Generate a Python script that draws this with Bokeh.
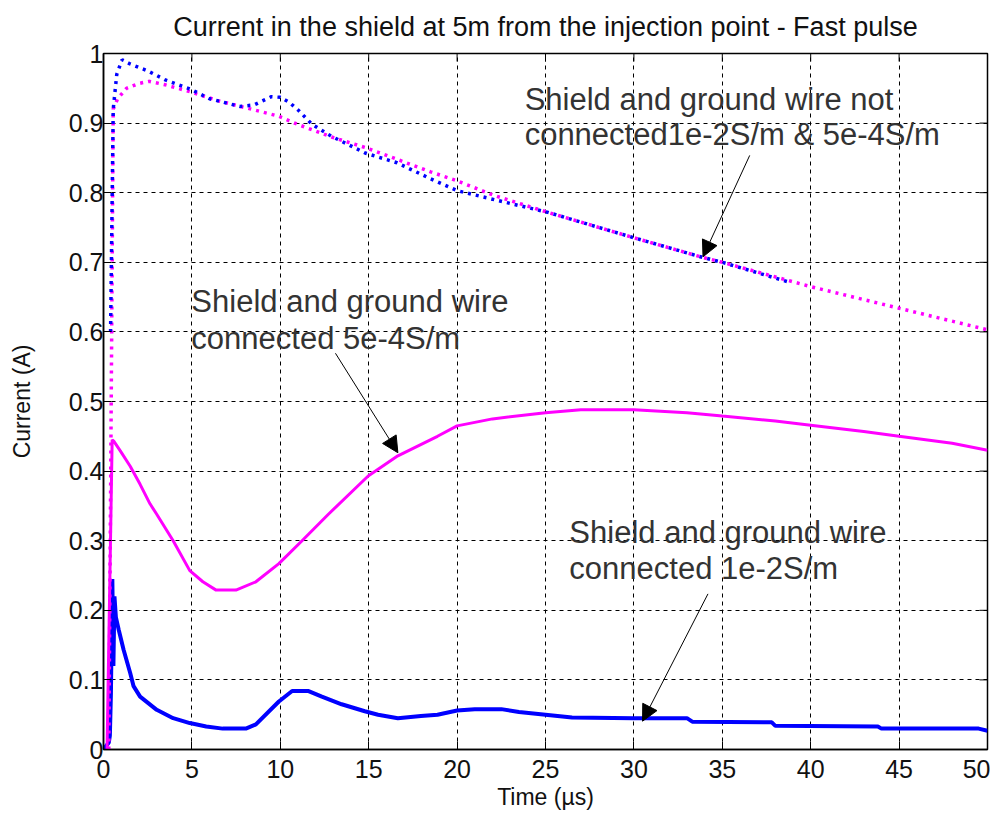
import math
from bokeh.plotting import figure
from bokeh.models import Arrow, NormalHead, FixedTicker, CustomJSTickFormatter, Range1d
from bokeh.embed import file_html
from bokeh.resources import INLINE
from bokeh.core.properties import value

TITLE = "Current in the shield at 5m from the injection point - Fast pulse"
X_LABEL = "Time (µs)"
Y_LABEL = "Current (A)"
x_ticks = [0, 5, 10, 15, 20, 25, 30, 35, 40, 45, 50]
y_ticks = [0, 0.1, 0.2, 0.3, 0.4, 0.5, 0.6, 0.7, 0.8, 0.9, 1.0]

# Shield and ground wire connected, 1e-2 S/m (blue solid)
t_con_1e2 = [0.0, 0.3, 0.36, 0.42, 0.5, 0.56, 0.62, 0.7, 0.86, 1.14, 1.51, 1.70, 2.07, 3.01, 3.94,
             4.88, 5.81, 6.74, 8.05, 8.62, 9.92, 10.67, 11.60, 12.35, 13.47, 14.78, 15.53,
             16.65, 17.95, 18.89, 20.0, 21.0, 22.5, 23.5, 25.0, 26.5, 30.0, 33.0, 33.3, 37.8,
             38.0, 43.8, 44.0, 49.5, 50.0]
i_con_1e2 = [0.0, 0.01, 0.02, 0.08, 0.245, 0.12, 0.22, 0.19, 0.172, 0.143, 0.110, 0.091, 0.076,
             0.057, 0.045, 0.038, 0.033, 0.030, 0.030, 0.036, 0.069, 0.084, 0.084, 0.076,
             0.065, 0.055, 0.050, 0.045, 0.048, 0.050, 0.056, 0.058, 0.058, 0.054, 0.050,
             0.046, 0.045, 0.045, 0.040, 0.039, 0.034, 0.033, 0.030, 0.030, 0.027]

# Shield and ground wire connected, 5e-4 S/m (magenta solid)
t_con_5e4 = [0.2, 0.49, 0.58, 0.95, 1.51, 2.07, 2.63, 3.01, 3.94, 4.88, 5.62, 6.37, 7.49, 8.62,
             9.92, 11.23, 12.72, 14.97, 16.65, 18.89, 20.0, 22.0, 25.0, 27.0, 30.0, 33.0, 35.0,
             38.0, 40.0, 43.0, 45.0, 48.0, 50.0]
i_con_5e4 = [0.0, 0.445, 0.443, 0.429, 0.407, 0.381, 0.353, 0.338, 0.300, 0.257, 0.241, 0.229,
             0.229, 0.241, 0.267, 0.300, 0.338, 0.393, 0.422, 0.450, 0.465, 0.475, 0.484,
             0.488, 0.488, 0.484, 0.479, 0.472, 0.466, 0.457, 0.450, 0.440, 0.430]

# Not connected, 5e-4 S/m (magenta dotted)
t_nc_5e4 = [0.3, 0.45, 0.55, 0.8, 1.3, 2.0, 2.6, 3.5, 4.9, 6.5, 8.05, 9.9, 11.0, 12.9, 14.8,
            16.6, 18.5, 20.0, 22.1, 25.1, 29.9, 33.9, 35.0, 40.0, 45.0, 50.0]
i_nc_5e4 = [0.0, 0.55, 0.92, 0.935, 0.95, 0.957, 0.96, 0.955, 0.945, 0.932, 0.922, 0.91, 0.898,
            0.88, 0.865, 0.848, 0.83, 0.817, 0.796, 0.772, 0.736, 0.707, 0.700, 0.665, 0.634,
            0.603]

# Not connected, 1e-2 S/m (blue dotted)
t_nc_1e2 = [0.4, 0.55, 0.75, 1.05, 1.5, 2.5, 3.5, 4.9, 6.0, 7.7, 8.5, 9.5, 10.0, 10.5, 11.0,
            11.8, 12.9, 14.8, 16.6, 18.5, 20.0, 22.1, 25.1, 29.9, 33.9, 35.0, 38.7]
i_nc_1e2 = [0.6, 0.92, 0.97, 0.991, 0.985, 0.975, 0.962, 0.949, 0.935, 0.924, 0.926, 0.938,
            0.937, 0.93, 0.919, 0.898, 0.881, 0.857, 0.843, 0.82, 0.803, 0.79, 0.772, 0.736,
            0.707, 0.700, 0.672]

# Annotations
note_x = [23.82, 23.82, 4.97, 4.97, 26.35, 26.35]
note_y = [0.9336, 0.8836, 0.6436, 0.5907, 0.3121, 0.2597]
note_text = ["Shield and ground wire not", "connected1e-2S/m & 5e-4S/m",
             "Shield and ground wire", "connected 5e-4S/m",
             "Shield and ground wire", "connected 1e-2S/m"]
arrow_x0 = [36.55, 13.12, 34.19]
arrow_y0 = [0.8536, 0.5693, 0.2236]
arrow_x1 = [33.91, 16.65, 30.49]
arrow_y1 = [0.7079, 0.4264, 0.0407]

FONT = "Liberation Sans"
X_MAX = x_ticks[-1]
Y_MAX = y_ticks[-1]

p = figure(width=990, height=813, output_backend="svg", toolbar_location=None,
           x_range=Range1d(0, X_MAX), y_range=Range1d(0, Y_MAX),
           min_border_left=103, min_border_right=3, min_border_top=53, min_border_bottom=64,
           background_fill_color="white", border_fill_color="white")

p.title.text = TITLE
p.title.align = "center"
p.title.vertical_align = "top"
p.title.text_font = FONT
p.title.text_font_size = "27px"
p.title.text_font_style = "normal"
p.title.text_color = "#111111"
p.title.standoff = 20

p.outline_line_color = "black"
p.outline_line_width = 1.5
p.outline_line_alpha = 1

for g in (p.xgrid, p.ygrid):
    g.grid_line_color = "black"
    g.grid_line_dash = "4 4"
    g.grid_line_width = 1

p.xgrid.ticker = FixedTicker(ticks=x_ticks)
p.ygrid.ticker = FixedTicker(ticks=y_ticks)

fmt = CustomJSTickFormatter(code="var s = tick.toFixed(1); return s.replace(/\\.0$/, '');")

for ax, ticks in ((p.xaxis[0], x_ticks), (p.yaxis[0], y_ticks)):
    ax.ticker = FixedTicker(ticks=ticks)
    ax.major_tick_in = 8
    ax.major_tick_out = 0
    ax.minor_tick_line_color = None
    ax.axis_line_color = "black"
    ax.axis_line_width = 1.5
    ax.major_tick_line_color = "black"
    ax.major_label_text_font = FONT
    ax.major_label_text_font_size = "25px"
    ax.major_label_text_color = "#111111"
    ax.axis_label_text_font = FONT
    ax.axis_label_text_font_size = "23px"
    ax.axis_label_text_font_style = "normal"
    ax.axis_label_text_color = "#111111"

p.yaxis[0].formatter = fmt
p.xaxis[0].formatter = fmt
p.xaxis[0].axis_label = X_LABEL
p.yaxis[0].axis_label = Y_LABEL
p.xaxis[0].major_label_standoff = 10
p.yaxis[0].major_label_standoff = 0
p.xaxis[0].axis_label_standoff = 3
p.yaxis[0].axis_label_standoff = 31

# inward ticks on the top and right edges of the box
p.ray(x=x_ticks, y=[Y_MAX] * len(x_ticks), length=8, length_units="screen",
      angle=-math.pi / 2, line_color="black", line_width=1)
p.ray(x=[X_MAX] * len(y_ticks), y=y_ticks, length=8, length_units="screen",
      angle=math.pi, line_color="black", line_width=1)

p.line(t_con_1e2, i_con_1e2, line_color="#0000FF", line_width=4)
p.line(t_con_5e4, i_con_5e4, line_color="#FF00FF", line_width=3)
p.line(t_nc_5e4, i_nc_5e4, line_color="#FF00FF", line_width=3.5, line_dash="3 5")
p.line(t_nc_1e2, i_nc_1e2, line_color="#0000FF", line_width=3.5, line_dash="3 5")

p.text(x=note_x, y=note_y, text=note_text, text_font=value(FONT),
       text_font_size="31px", text_color="#333333", text_baseline="alphabetic",
       text_align="left")

for xs, ys, xe, ye in zip(arrow_x0, arrow_y0, arrow_x1, arrow_y1):
    p.add_layout(Arrow(end=NormalHead(size=16, fill_color="black", line_color="black"),
                       x_start=xs, y_start=ys, x_end=xe, y_end=ye,
                       line_color="black", line_width=1))

open("out.html", "w").write(file_html(p, INLINE))
